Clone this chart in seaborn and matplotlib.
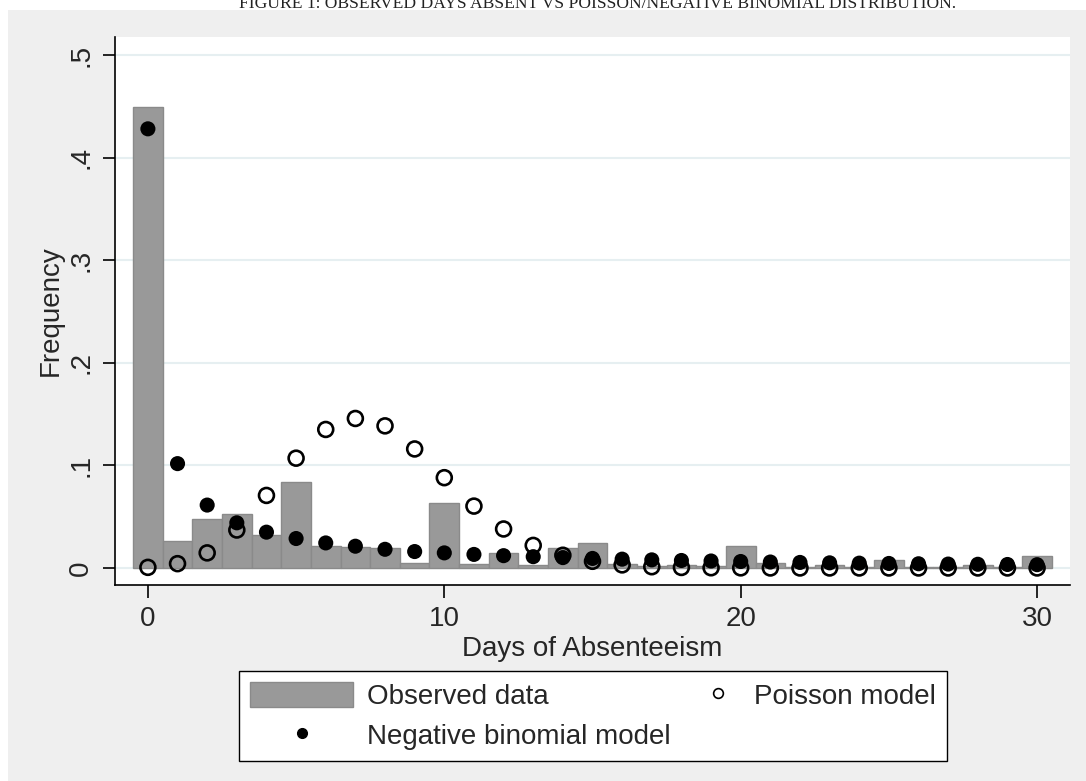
import numpy as np
import pandas as pd
import matplotlib
matplotlib.use("Agg")
import matplotlib.pyplot as plt
from matplotlib.patches import Rectangle
from matplotlib.lines import Line2D
from matplotlib.legend_handler import HandlerLine2D
import seaborn as sns

days = list(range(31))
observed = [0.449, 0.0267, 0.048, 0.053, 0.0326, 0.084, 0.0218, 0.0208, 0.0192, 0.0052,
            0.063, 0.0042, 0.0143, 0.0026, 0.0199, 0.0248, 0.0039, 0.0016, 0.0026, 0.0016,
            0.0215, 0.0053, 0.0008, 0.0026, 0.0010, 0.0081, 0.0010, 0.0008, 0.0033, 0.0010,
            0.0120]
poisson = [0.0006, 0.0042, 0.0147, 0.0370, 0.0707, 0.1070, 0.1350, 0.1457, 0.1385, 0.1160,
           0.0880, 0.0603, 0.0380, 0.0220, 0.0124, 0.0065, 0.0030, 0.0012, 0.0005, 0.0002,
           0.0001, 0.0, 0.0, 0.0, 0.0, 0.0, 0.0, 0.0, 0.0, 0.0, 0.0]
negbin = [0.428, 0.1017, 0.0613, 0.0440, 0.0349, 0.0287, 0.0244, 0.0212, 0.0182, 0.0160,
          0.0147, 0.0132, 0.0120, 0.0110, 0.0101, 0.0093, 0.0086, 0.0079, 0.0073, 0.0068,
          0.0063, 0.0058, 0.0054, 0.0050, 0.0047, 0.0044, 0.0041, 0.0038, 0.0036, 0.0034,
          0.0032]
yticks = [0, 0.1, 0.2, 0.3, 0.4, 0.5]
ytick_labels = ["0", ".1", ".2", ".3", ".4", ".5"]
xticks = [0, 10, 20, 30]

df = pd.DataFrame({"days": days, "observed": observed, "poisson": poisson, "negbin": negbin})

sns.set_theme(style="white")
plt.rcParams["font.family"] = ["Liberation Sans", "DejaVu Sans"]

W, H = 1086, 781
fig = plt.figure(figsize=(W / 100, H / 100), dpi=100, facecolor="white")
# gray graph region
bg = Rectangle((8 / W, 0), 1 - 8 / W, 1 - 10 / H, transform=fig.transFigure,
               facecolor="#efefef", edgecolor="none", zorder=-10)
fig.patches.append(bg)

ax = fig.add_axes([115 / W, 1 - 585 / H, (1070 - 115) / W, (585 - 37) / H])
ax.set_zorder(1)
ax.set_facecolor("white")

sns.barplot(data=df, x="days", y="observed", native_scale=True, width=1.0,
            color="#999999", saturation=1, edgecolor="#8a8a8a", linewidth=1.0, ax=ax,
            zorder=2)
sns.scatterplot(data=df, x="days", y="poisson", marker="o", s=115, facecolor="none",
                edgecolor="black", linewidth=1.9, ax=ax, zorder=3)
sns.scatterplot(data=df, x="days", y="negbin", marker="o", s=118, color="black",
                edgecolor="none", linewidth=0, ax=ax, zorder=4)

ax.set_xlim(-1.11, 31.11)
ax.set_ylim(-0.0166, 0.5175)
ax.set_yticks(yticks)
ax.set_yticklabels(ytick_labels, rotation=90, va="center")
ax.set_xticks(xticks)
ax.set_xticklabels([str(t) for t in xticks])
ax.yaxis.grid(True, color="#e6eff1", linewidth=1.5, zorder=1)
ax.set_axisbelow(True)
for s in ["top", "right"]:
    ax.spines[s].set_visible(False)
for s in ["left", "bottom"]:
    ax.spines[s].set_color("black")
    ax.spines[s].set_linewidth(1.2)
ax.tick_params(axis="both", which="major", direction="out", length=9, width=1.2,
               color="black", labelsize=20, pad=6, left=True, bottom=True)
ax.set_xlabel("Days of Absenteeism", fontsize=20, labelpad=3)
ax.set_ylabel("Frequency", fontsize=20, labelpad=3)

# title (partly cut off at the top of the page, as in the source)
fig.text(598 / W, 1 - 8 / H,
         "FIGURE 1: OBSERVED DAYS ABSENT VS POISSON/NEGATIVE BINOMIAL DISTRIBUTION.",
         ha="center", va="baseline", fontsize=12.6, family=["Liberation Serif", "DejaVu Serif"],
         color="#222222")


class RightMarker(HandlerLine2D):
    def get_xdata(self, legend, xdescent, ydescent, width, height, fontsize):
        xm = -xdescent + width - 0.8 * fontsize
        xdata = np.array([xm - 1.0, xm + 1.0])
        return xdata, np.array([xm])


h_obs = Rectangle((0, 0), 1, 1, facecolor="#999999", edgecolor="#8a8a8a")
h_nb = Line2D([], [], linestyle="none", marker="o", markersize=7, color="black")
h_po = Line2D([], [], linestyle="none", marker="o", markersize=7, markerfacecolor="none",
              markeredgecolor="black", markeredgewidth=1.2)
leg = fig.legend([h_obs, h_nb, h_po], ["Observed data", "Negative binomial model", "Poisson model"],
                 ncol=2, loc="center", bbox_to_anchor=(593 / W, 1 - 716 / H),
                 bbox_transform=fig.transFigure, fontsize=20, frameon=True, fancybox=False,
                 edgecolor="black", framealpha=1, handlelength=3.7, handleheight=1.0,
                 handletextpad=0.5, columnspacing=-1.2, labelspacing=0.42, borderpad=0.4,
                 handler_map={h_po: RightMarker()})
leg.get_frame().set_linewidth(1.0)

fig.savefig("out.png", dpi=100, facecolor=fig.get_facecolor())
